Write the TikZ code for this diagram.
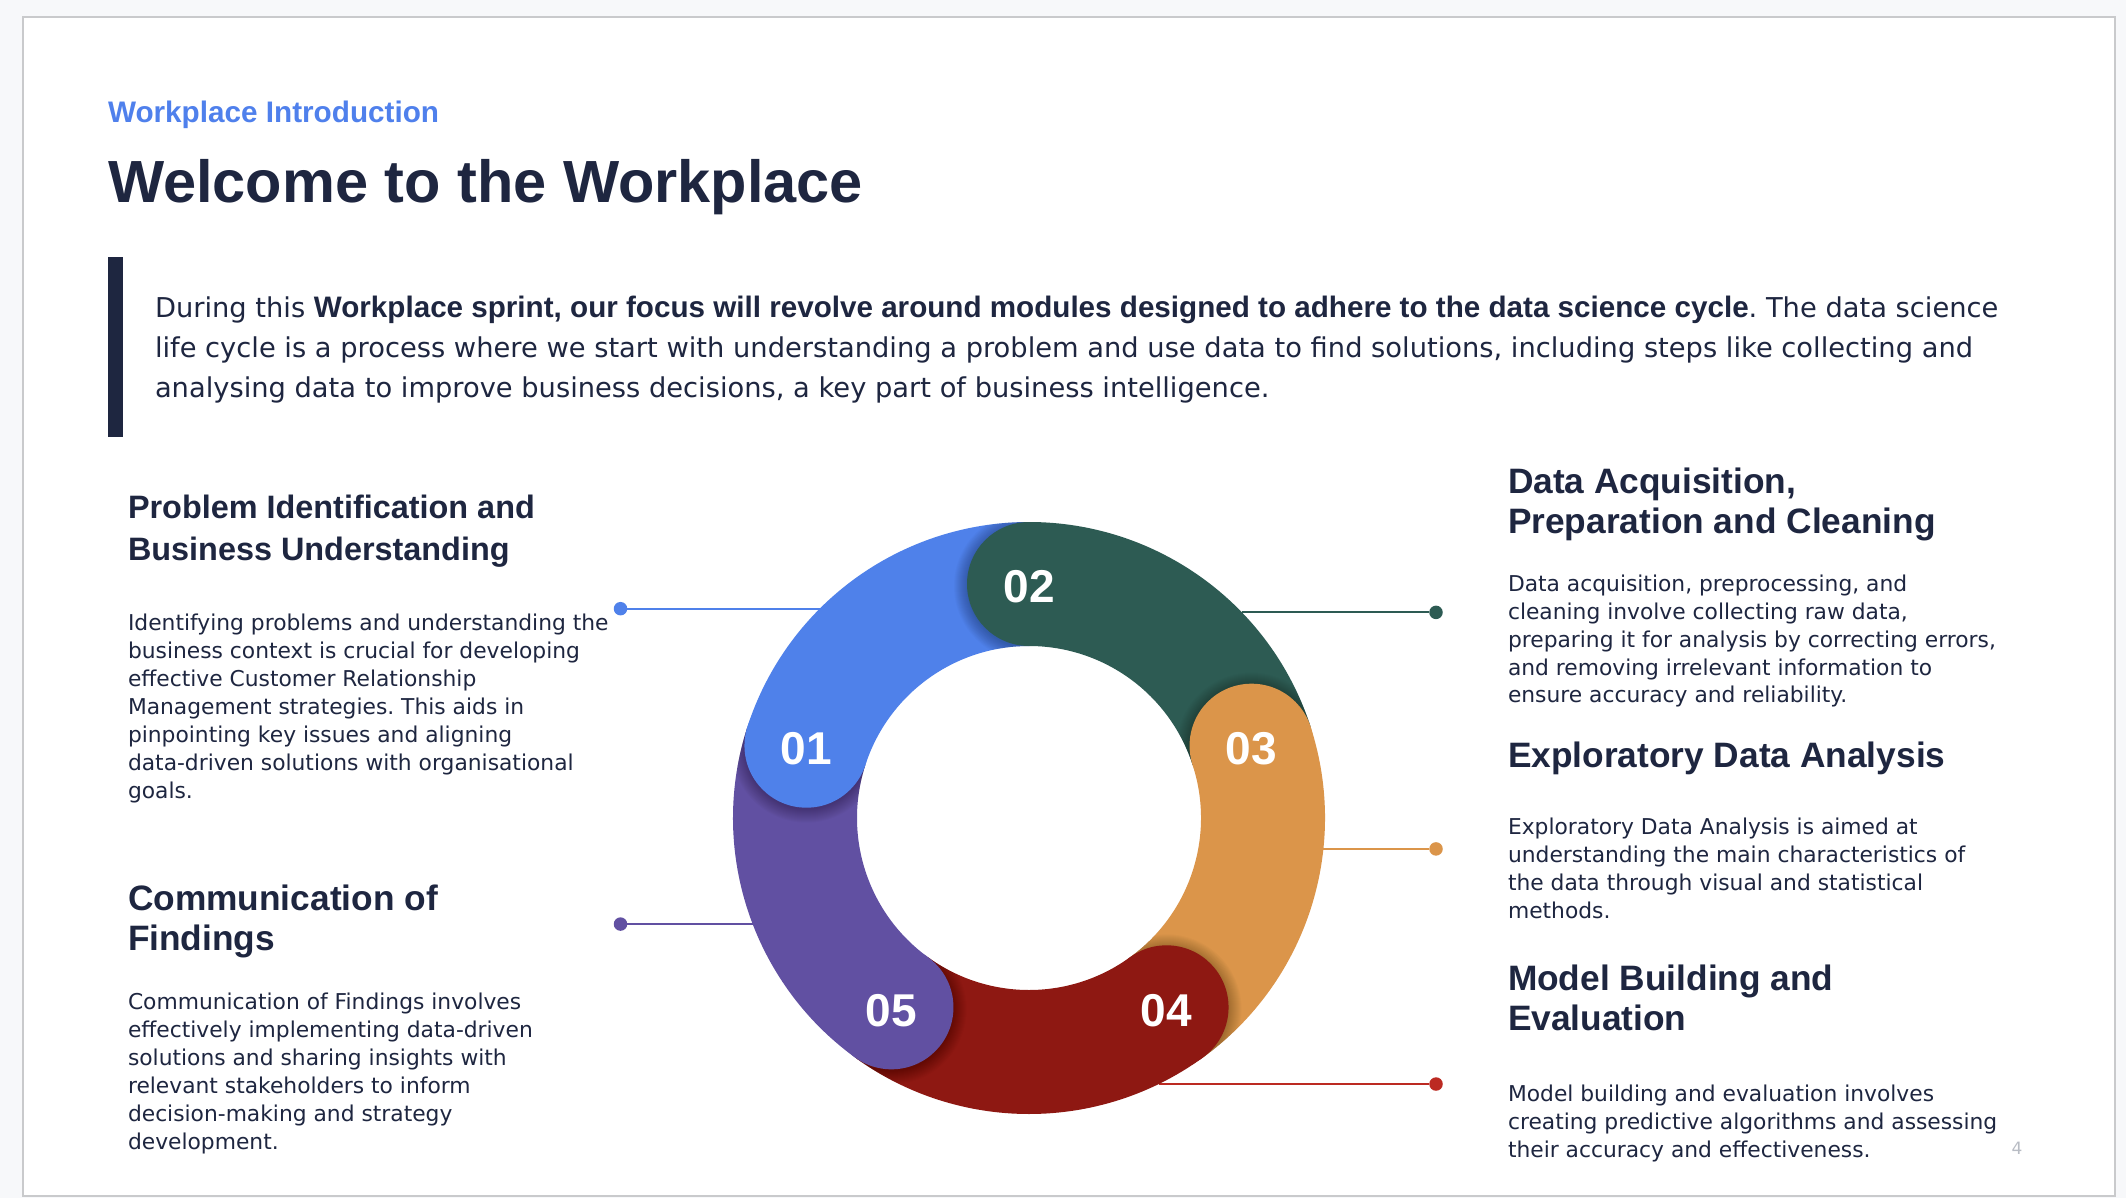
\documentclass[tikz,border=0pt]{standalone}
\usepackage{fontspec}
\setmainfont{DejaVu Sans}
\newfontfamily\headfont{Liberation Sans}
\newfontfamily\runfont{Liberation Sans}[Scale=1.085]
\frenchspacing

\definecolor{ink}{HTML}{1E2640}
\definecolor{pagebg}{HTML}{F7F8FA}
\definecolor{cardline}{HTML}{C9CACC}
\definecolor{kicker}{HTML}{4F80EC}
\definecolor{segblue}{HTML}{4F81EA}
\definecolor{seggreen}{HTML}{2D5B53}
\definecolor{segorange}{HTML}{DB954A}
\definecolor{segred}{HTML}{8E1812}
\definecolor{segpurple}{HTML}{6150A2}
\definecolor{linered}{HTML}{BC2A22}
\definecolor{pagenum}{HTML}{B8BCC4}

\newcommand\boldrun[1]{{\runfont\bfseries #1}}

\tikzset{
  txt/.style={anchor=base west, inner sep=0pt, outer sep=0pt, text=ink},
  body/.style={txt, font=\fontsize{21.8}{26}\selectfont},
  headsm/.style={txt, font=\headfont\bfseries\fontsize{32.4}{38}\selectfont},
  headlg/.style={txt, font=\headfont\bfseries\fontsize{35.3}{42}\selectfont},
  para/.style={txt, font=\fontsize{27.3}{34}\selectfont},
  num/.style={text=white, inner sep=0pt, font=\headfont\bfseries\fontsize{46}{50}\selectfont},
  dot/.style={circle, inner sep=0pt, outer sep=0pt, minimum size=13.5pt},
  lead/.style={line width=2pt},
}

\begin{document}
\begin{tikzpicture}[x=1pt,y=-1pt]
\useasboundingbox (0,0) rectangle (2126,1198);

% page and card
\fill[pagebg] (0,0) rectangle (2126,1198);
\filldraw[fill=white, draw=cardline, line width=2.2pt] (23,17) rectangle (2115,1196);

% header
\node[txt, text=kicker, font=\headfont\bfseries\fontsize{29.7}{35}\selectfont] (kick) at (108,122.3) {Workplace Introduction};
\node[txt, font=\headfont\bfseries\fontsize{59.5}{70}\selectfont] (title) at (108,202.7) {Welcome to the Workplace};

% quote bar and intro paragraph
\fill[ink] (108,257) rectangle (123,437);
\node[para] (intro1) at (155,317.3) {During this \boldrun{Workplace sprint, our focus will revolve around modules designed to adhere to the data science cycle}. The data science};
\node[para] (intro2) at (155,357.3) {life cycle is a process where we start with understanding a problem and use data to find solutions, including steps like collecting and};
\node[para] (intro3) at (155,397.3) {analysing data to improve business decisions, a key part of business intelligence.};

% left column
\node[headsm] (h1a) at (128,518.3) {Problem Identification and};
\node[headsm] (h1b) at (128,560) {Business Understanding};
\foreach \ln [count=\k from 0] in {
  {Identifying problems and understanding the},
  {business context is crucial for developing},
  {effective Customer Relationship},
  {Management strategies. This aids in},
  {pinpointing key issues and aligning},
  {data-driven solutions with organisational},
  {goals.}}
  {\node[body] (b1-\k) at (128,{630+28*\k}) {\ln};}

\node[headlg] (h5a) at (128,910) {Communication of};
\node[headlg] (h5b) at (128,950.5) {Findings};
\foreach \ln [count=\k from 0] in {
  {Communication of Findings involves},
  {effectively implementing data-driven},
  {solutions and sharing insights with},
  {relevant stakeholders to inform},
  {decision-making and strategy},
  {development.}}
  {\node[body] (b5-\k) at (128,{1009.6+28*\k}) {\ln};}

% right column
\node[headlg] (h2a) at (1508,493.3) {Data Acquisition,};
\node[headlg] (h2b) at (1508,533.3) {Preparation and Cleaning};
\foreach \ln [count=\k from 0] in {
  {Data acquisition, preprocessing, and},
  {cleaning involve collecting raw data,},
  {preparing it for analysis by correcting errors,},
  {and removing irrelevant information to},
  {ensure accuracy and reliability.}}
  {\node[body] (b2-\k) at (1508,{591.7+27.8*\k}) {\ln};}

\node[headlg] (h3) at (1508,767.2) {Exploratory Data Analysis};
\foreach \ln [count=\k from 0] in {
  {Exploratory Data Analysis is aimed at},
  {understanding the main characteristics of},
  {the data through visual and statistical},
  {methods.}}
  {\node[body] (b3-\k) at (1508,{834.7+27.8*\k}) {\ln};}

\node[headlg] (h4a) at (1508,990) {Model Building and};
\node[headlg] (h4b) at (1508,1030.7) {Evaluation};
\foreach \ln [count=\k from 0] in {
  {Model building and evaluation involves},
  {creating predictive algorithms and assessing},
  {their accuracy and effectiveness.}}
  {\node[body] (b4-\k) at (1508,{1101.7+27.8*\k}) {\ln};}

\node[anchor=base, inner sep=0pt, text=pagenum, font=\fontsize{17}{20}\selectfont] (pg) at (2017,1154) {4};

% leader lines from the dots to the outer rim of the ring
\node[circle, minimum size=592pt, inner sep=0pt, outer sep=0pt] (ring) at (1029,818) {};
\coordinate (colL) at (620.5,0);
\coordinate (colR) at (1436,0);
\node[dot, fill=segblue]   (d1) at (ring.135.6 -| colL) {};
\node[dot, fill=segpurple] (d5) at (ring.201.0 -| colL) {};
\node[dot, fill=seggreen]  (d2) at (ring.44.4 -| colR) {};
\node[dot, fill=segorange] (d3) at (ring.-6.7 -| colR) {};
\node[dot, fill=linered]   (d4) at (ring.-64.0 -| colR) {};
\draw[lead, segblue]   (d1) -- (ring.135.6);
\draw[lead, segpurple] (d5) -- (ring.201.0);
\draw[lead, seggreen]  (d2) -- (ring.44.4);
\draw[lead, segorange] (d3) -- (ring.-6.7);
\draw[lead, linered]   (d4) -- (ring.-64.0);

% the cycle ring: five sectors, each opening with a round cap laid over its predecessor
\begin{scope}[shift={(1029,818)}, x=1pt, y=1pt]
  \foreach \a/\c in {162/segblue, 90/seggreen, 18/segorange, -54/segred, -126/segpurple}
    \fill[\c] (\a:296) arc[start angle=\a, end angle={\a-72}, radius=296]
      -- ({\a-72}:172) arc[start angle={\a-72}, end angle=\a, radius=172] -- cycle;
  \foreach \a/\c/\n in {162/segblue/01, 90/seggreen/02, 18/segorange/03, -54/segred/04, -126/segpurple/05}{
    \begin{scope}
      % soft shadow of the cap, kept on the preceding sector
      \clip (\a:296) arc[start angle=\a, end angle={\a+80}, radius=296]
        -- ({\a+80}:172) arc[start angle={\a+80}, end angle=\a, radius=172] -- cycle;
      \foreach \k in {1,...,14}
        \fill[black, opacity=0.02] (\a:234) ++(0,-2) circle[radius={61+\k}];
    \end{scope}
    \fill[\c] (\a:234) circle[radius=62];
    \node[num] (n\n) at (\a:234) [yshift=-3pt] {\n};
  }
\end{scope}

\end{tikzpicture}
\end{document}
